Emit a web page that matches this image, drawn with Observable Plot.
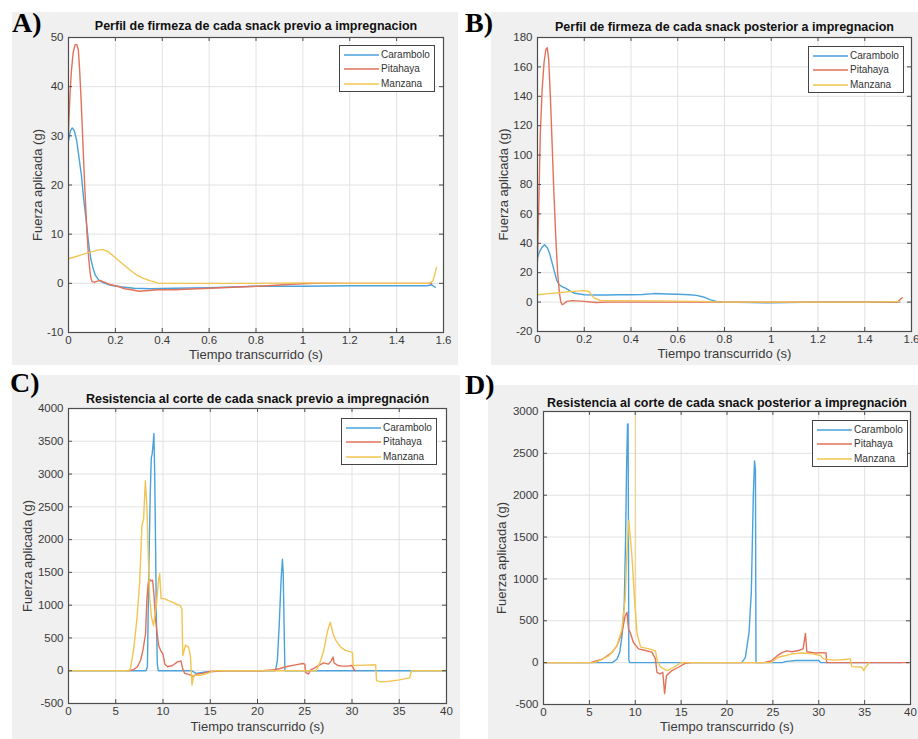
<!DOCTYPE html>
<html><head><meta charset="utf-8">
<script src="https://cdn.jsdelivr.net/npm/d3@7"></script>
<script src="https://cdn.jsdelivr.net/npm/@observablehq/plot@0.6"></script>
<style>
body{margin:0;background:#fff;width:918px;height:739px;overflow:hidden;position:relative;font-family:"Liberation Sans",Arial,sans-serif}
.panel{position:absolute;background:#f0f0f0}
.panel svg{position:absolute;left:0;top:0;overflow:visible}
.plab{position:absolute;font-family:"Liberation Serif","Times New Roman",serif;font-weight:bold;font-size:28px;line-height:28px;color:#000}
.legend{position:absolute;background:#fff;border:1px solid #444;box-sizing:border-box;font-size:10px;color:#333}
.legend .row{position:absolute;left:0;width:100%;height:14px}
.legend svg{position:absolute;left:4px;top:6px;overflow:visible}
.legend .tx{position:absolute;left:41px;top:0;line-height:14px;white-space:nowrap}
</style>
</head><body>
<script>
// ---- series ----
const seriesNames = ["Carambolo", "Pitahaya", "Manzana"];
const seriesColors = ["#4aa2db", "#e2725a", "#f2c552"];

// ---- ticks ----
const xTicksA = [0, 0.2, 0.4, 0.6, 0.8, 1, 1.2, 1.4, 1.6];
const yTicksA = [-10, 0, 10, 20, 30, 40, 50];
const yTicksB = [-20, 0, 20, 40, 60, 80, 100, 120, 140, 160, 180];
const xTicksC = [0, 5, 10, 15, 20, 25, 30, 35, 40];
const yTicksC = [-500, 0, 500, 1000, 1500, 2000, 2500, 3000, 3500, 4000];
const yTicksD = [-500, 0, 500, 1000, 1500, 2000, 2500, 3000];

// ---- text ----
const titles = [
  "Perfil de firmeza de cada snack previo a impregnacion",
  "Perfil de firmeza de cada snack posterior a impregnacion",
  "Resistencia al corte de cada snack previo a impregnación",
  "Resistencia al corte de cada snack posterior a impregnación"
];
const panelLetters = ["A)", "B)", "C)", "D)"];
const xLabel = "Tiempo transcurrido (s)";
const yLabel = "Fuerza aplicada (g)";

// ---- A: [tiempo s, fuerza g] ----
const aCarambolo = [[0,29],[0.008,31],[0.016,31.6],[0.025,31],[0.035,29],[0.045,25.5],[0.055,22],[0.065,17],[0.075,13],[0.085,8.5],[0.095,5],[0.105,3],[0.115,1.6],[0.13,0.6],[0.15,0.1],[0.18,-0.4],[0.22,-0.7],[0.28,-1],[0.35,-1.1],[0.45,-1],[0.6,-0.9],[0.8,-0.6],[1.0,-0.6],[1.2,-0.5],[1.4,-0.5],[1.53,-0.5],[1.55,-0.3],[1.565,-0.8]];
const aPitahaya = [[0,31],[0.006,38],[0.012,43],[0.02,47],[0.028,48.5],[0.035,48.6],[0.042,47.5],[0.048,43],[0.055,36],[0.062,28],[0.07,19],[0.078,11],[0.086,5],[0.094,1.5],[0.1,0.4],[0.11,0.2],[0.12,0.4],[0.135,0.6],[0.15,0.3],[0.18,-0.3],[0.21,-0.6],[0.24,-1.1],[0.27,-1.3],[0.3,-1.6],[0.33,-1.5],[0.38,-1.3],[0.45,-1.3],[0.55,-1.1],[0.7,-0.8],[0.85,-0.5],[0.95,-0.2],[1.05,0],[1.2,0],[1.4,0],[1.55,0]];
const aManzana = [[0,5],[0.03,5.4],[0.06,5.9],[0.09,6.3],[0.12,6.7],[0.145,6.9],[0.17,6.4],[0.2,5.2],[0.23,4],[0.26,2.8],[0.29,1.7],[0.32,1],[0.35,0.5],[0.38,0.1],[0.4,0],[0.6,0],[0.8,0],[1.0,0.1],[1.2,0],[1.4,0],[1.54,0],[1.555,0.5],[1.57,3.2]];

// ---- B ----
const bCarambolo = [[0,30],[0.008,34],[0.018,37],[0.03,39],[0.042,37],[0.052,33],[0.062,27],[0.072,21],[0.082,15],[0.092,12],[0.105,10.5],[0.12,9.5],[0.14,7.5],[0.16,6],[0.2,5],[0.25,4.8],[0.3,4.8],[0.35,5],[0.4,5],[0.45,5.2],[0.5,5.8],[0.55,5.5],[0.6,5.3],[0.65,5],[0.68,4.6],[0.71,3.5],[0.74,1.5],[0.77,0.3],[0.8,0],[1.0,-0.5],[1.2,0],[1.4,0],[1.55,0]];
const bPitahaya = [[0,28],[0.006,70],[0.012,115],[0.02,145],[0.028,163],[0.036,172],[0.042,173],[0.048,165],[0.055,140],[0.062,110],[0.07,75],[0.078,45],[0.086,20],[0.094,6],[0.1,0],[0.106,-1.8],[0.114,-1],[0.125,0.5],[0.15,1],[0.2,0.5],[0.25,-0.3],[0.3,0],[0.4,0],[0.6,0],[0.8,0],[1.0,0],[1.2,0],[1.4,0],[1.54,0],[1.56,3]];
const bManzana = [[0,5],[0.05,5.8],[0.1,6.5],[0.15,7.3],[0.2,7.8],[0.22,7.2],[0.24,3],[0.27,1],[0.35,1],[0.5,0.8],[0.7,0.5],[0.8,0],[1.0,0],[1.2,0],[1.4,0],[1.55,0.3]];

// ---- C ----
const cCarambolo = [[0,0],[8.2,0],[8.35,60],[8.5,1550],[8.65,2700],[8.76,3250],[8.85,3300],[8.95,3450],[9.04,3620],[9.12,3000],[9.2,2100],[9.3,800],[9.4,100],[9.5,0],[13,0],[13.5,-40],[14.5,-20],[16.5,0],[21.9,0],[22.1,150],[22.3,700],[22.5,1400],[22.64,1700],[22.72,1500],[22.8,800],[22.9,0],[40,0]];
const cPitahaya = [[6.2,0],[6.8,10],[7.3,60],[7.63,160],[7.9,330],[8.15,560],[8.3,1100],[8.45,1350],[8.6,1390],[8.75,1370],[8.9,1380],[9.05,1150],[9.2,800],[9.39,560],[9.55,380],[9.75,310],[10.0,250],[10.2,100],[10.5,60],[11.0,80],[11.5,130],[11.9,150],[12.1,20],[12.3,-40],[12.8,-60],[13.2,-90],[13.6,-50],[14.2,-40],[15.0,-10],[16.7,0],[20.5,0],[21.5,10],[22.3,30],[23,60],[24,90],[24.8,110],[25.0,100],[25.1,-30],[25.4,-50],[25.6,10],[26,40],[26.5,80],[27,120],[27.5,100],[27.8,150],[28.0,210],[28.1,120],[28.5,80],[29,70],[29.5,70],[30.0,80],[30.2,20],[30.4,0]];
const cManzana = [[0,0],[6.4,0],[6.55,30],[6.9,330],[7.24,790],[7.53,1350],[7.77,2210],[7.95,2320],[8.13,2900],[8.3,2500],[8.45,1700],[8.6,1100],[8.8,800],[9.0,690],[9.3,1000],[9.54,1400],[9.65,1480],[9.8,1100],[10.1,1100],[10.6,1070],[11.1,1040],[11.5,1010],[11.84,990],[12.0,940],[12.1,230],[12.37,390],[12.7,360],[12.9,230],[13.07,-220],[13.25,-70],[13.96,-70],[14.66,-45],[15.4,0],[26.2,0],[26.6,120],[27.0,300],[27.4,600],[27.7,740],[28.0,560],[28.3,460],[28.8,360],[29.3,310],[30.05,280],[30.12,80],[31.5,85],[32.5,90],[32.6,-150],[33.0,-170],[34.0,-160],[35.0,-140],[36.1,-110],[36.2,-50],[36.3,0],[40,0]];

// ---- D ----
const dCarambolo = [[0,0],[7.5,0],[8.0,40],[8.3,120],[8.58,340],[8.8,700],[8.95,1500],[9.05,2300],[9.16,2850],[9.22,2850],[9.3,30],[9.4,0],[21.6,0],[22.0,60],[22.4,360],[22.65,840],[22.87,2000],[23.0,2410],[23.1,2300],[23.16,0],[26,0],[26.5,15],[27.5,25],[30,25],[30.2,0],[39,0]];
const dPitahaya = [[0,0],[5.1,0],[6.4,40],[7.45,120],[8.0,200],[8.55,360],[8.9,560],[9.1,600],[9.27,400],[9.45,360],[9.8,240],[10.36,165],[11.1,145],[11.8,125],[12.2,45],[12.36,-115],[12.7,-135],[13.0,-115],[13.2,-370],[13.4,-155],[14.0,-95],[14.7,-55],[15.45,-8],[16.2,0],[24.0,0],[24.8,20],[25.45,80],[26.0,120],[26.5,140],[27.1,130],[27.8,145],[28.3,165],[28.55,350],[28.7,130],[29.6,115],[30.4,120],[30.8,115],[30.85,0],[39.8,0]];
const dManzana = [[0,0],[5.5,0],[6.0,20],[7.1,80],[8.0,200],[8.55,400],[8.9,760],[9.1,1350],[9.3,1700],[9.5,1450],[9.67,1220],[9.93,740],[10.2,340],[10.6,185],[11.5,165],[12.2,140],[12.4,25],[12.76,-55],[13.5,-95],[14.2,-55],[15.0,0],[24.8,0],[25.1,25],[25.6,65],[26.4,85],[27.1,105],[28.2,115],[29.3,105],[30.2,85],[30.5,45],[31.5,30],[32.5,35],[33.45,45],[33.6,-48],[34.7,-55],[34.9,-95],[35.1,-55],[35.5,0]];
// faint thin Manzana spike near 10 s (runs off the top of panel D)
const dManzanaSpike = [[9.98,700],[10.02,3200],[10.06,400]];

// ---- layout (page pixels) ----
const panels = [
  {box:[12,12,446,353], frame:[68,37,443,332], xT:xTicksA, yT:yTicksA, series:[aCarambolo,aPitahaya,aManzana], letter:[12,9], legend:[339,45], yDx:-31, xDy:21, tDy:-12},
  {box:[491,12,427,353], frame:[537,37,911,331], xT:xTicksA, yT:yTicksB, series:[bCarambolo,bPitahaya,bManzana], letter:[465,9], legend:[808,46], yDx:-34, xDy:21, tDy:-11},
  {box:[12,375,448,364], frame:[68,408,446,703], xT:xTicksC, yT:yTicksC, series:[cCarambolo,cPitahaya,cManzana], letter:[10,369], legend:[341,418], yDx:-41, xDy:22, tDy:-10},
  {box:[488,385,430,354], frame:[543,411,910,704], xT:xTicksC, yT:yTicksD, series:[dCarambolo,dPitahaya,dManzana], letter:[465,371], legend:[812,420], yDx:-42, xDy:21, tDy:-9, extra:dManzanaSpike}
];

const fmt = d => String(d);
panels.forEach((p, i) => {
  const [bx, by, bw, bh] = p.box;
  const [fx0, fy0, fx1, fy1] = p.frame;
  const mL = fx0 - bx, mT = fy0 - by, mR = bx + bw - fx1, mB = by + bh - fy1;
  const innerW = fx1 - fx0, innerH = fy1 - fy0;
  const xd = [p.xT[0], p.xT[p.xT.length - 1]];
  const yd = [p.yT[0], p.yT[p.yT.length - 1]];
  const lines = p.series.map((s, k) => Plot.line(s, {x: d => d[0], y: d => d[1], stroke: seriesColors[k], strokeWidth: 1.4, clip: true}));
  if (p.extra) lines.push(Plot.line(p.extra, {x: d => d[0], y: d => d[1], stroke: seriesColors[2], strokeWidth: 0.7, strokeOpacity: 0.6, clip: true}));
  const tickColor = "#4d4d4d";
  const chart = Plot.plot({
    width: bw, height: bh,
    marginLeft: mL, marginTop: mT, marginRight: mR, marginBottom: mB,
    x: {domain: xd, label: null},
    y: {domain: yd, label: null},
    style: {background: "transparent", fontFamily: "'Liberation Sans', Arial, sans-serif", color: "#3a3a3a", overflow: "visible"},
    marks: [
      Plot.frame({fill: "white", stroke: "none"}),
      Plot.gridX(p.xT, {stroke: "#e2e2e2", strokeOpacity: 1}),
      Plot.gridY(p.yT, {stroke: "#e2e2e2", strokeOpacity: 1}),
      ...lines,
      Plot.tickX(p.xT, {x: d => d, insetTop: innerH - 4, stroke: tickColor}),
      Plot.tickX(p.xT, {x: d => d, insetBottom: innerH - 4, stroke: tickColor}),
      Plot.tickY(p.yT, {y: d => d, insetRight: innerW - 4, stroke: tickColor}),
      Plot.tickY(p.yT, {y: d => d, insetLeft: innerW - 4, stroke: tickColor}),
      Plot.frame({stroke: tickColor, strokeWidth: 1.2}),
      Plot.axisX(p.xT, {tickSize: 0, tickPadding: 3, tickFormat: fmt, fontSize: 11.5, label: null}),
      Plot.axisY(p.yT, {tickSize: 0, tickPadding: 5, tickFormat: fmt, fontSize: 11.5, label: null}),
      Plot.text([xLabel], {text: d => d, frameAnchor: "bottom", lineAnchor: "middle", textAnchor: "middle", dy: p.xDy + 1, fontSize: 13, fill: "#3a3a3a"}),
      Plot.text([yLabel], {text: d => d, frameAnchor: "left", lineAnchor: "middle", textAnchor: "middle", dx: p.yDx, rotate: -90, fontSize: 13, fill: "#3a3a3a"}),
      Plot.text([titles[i]], {text: d => d, frameAnchor: "top", lineAnchor: "middle", textAnchor: "middle", dy: p.tDy, fontSize: 12.5, fontWeight: "bold", fill: "#111"})
    ]
  });
  const div = document.createElement("div");
  div.className = "panel";
  div.style.left = bx + "px"; div.style.top = by + "px";
  div.style.width = bw + "px"; div.style.height = bh + "px";
  div.appendChild(chart);
  document.body.appendChild(div);

  const lab = document.createElement("div");
  lab.className = "plab";
  lab.textContent = panelLetters[i];
  lab.style.left = p.letter[0] + "px"; lab.style.top = p.letter[1] + "px";
  document.body.appendChild(lab);

  const lg = document.createElement("div");
  lg.className = "legend";
  lg.style.left = p.legend[0] + "px"; lg.style.top = p.legend[1] + "px";
  lg.style.width = "96px"; lg.style.height = "47px";
  seriesNames.forEach((n, k) => {
    const row = document.createElement("div");
    row.className = "row";
    row.style.top = (1.5 + k * 14.5) + "px";
    const sw = d3.create("svg").attr("width", 35).attr("height", 2);
    sw.append("line").attr("x1", 0).attr("x2", 35).attr("y1", 1).attr("y2", 1)
      .attr("stroke", seriesColors[k]).attr("stroke-width", 1.4);
    const tx = document.createElement("div");
    tx.className = "tx"; tx.textContent = n;
    row.appendChild(sw.node()); row.appendChild(tx);
    lg.appendChild(row);
  });
  document.body.appendChild(lg);
});
</script>
</body></html>
